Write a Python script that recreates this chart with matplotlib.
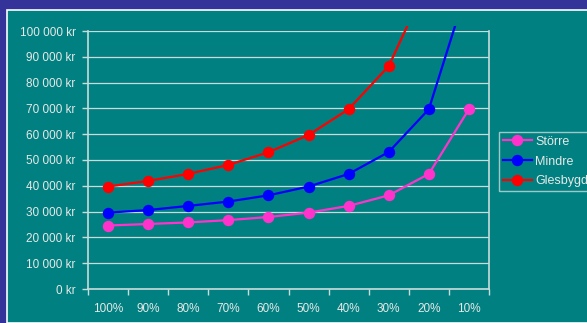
import numpy as np
import matplotlib
matplotlib.use("Agg")
import matplotlib.pyplot as plt
from matplotlib.patches import Rectangle
from matplotlib.ticker import FuncFormatter

categories = ["100%", "90%", "80%", "70%", "60%", "50%", "40%", "30%", "20%", "10%"]
storre = [24600, 25200, 25800, 26700, 27900, 29600, 32200, 36300, 44600, 69700]
mindre = [29600, 30600, 32200, 33900, 36300, 39700, 44600, 53100, 69700, 119000]
glesbygd = [39700, 41900, 44600, 48100, 53000, 59700, 69700, 86400, 120000, np.nan]
series_names = ["Större", "Mindre", "Glesbygd"]
yticks = [0, 10000, 20000, 30000, 40000, 50000, 60000, 70000, 80000, 90000, 100000]

W, H = 587, 323
BLUE_BG = "#333399"
TEAL = "#008080"
TXT = "#E8E8E8"
GRID = "#C8DCDC"

plt.rcParams['font.family'] = ['Liberation Sans', 'DejaVu Sans']
fig = plt.figure(figsize=(W / 100, H / 100), dpi=100, facecolor=BLUE_BG)

# teal panel with white border
panel = Rectangle((7 / W, 0), 1.0, 1 - 10 / H, transform=fig.transFigure,
                  facecolor=TEAL, edgecolor="white", linewidth=1.2, zorder=-10)
fig.patches.append(panel)

left, right, top, bottom = 88, 489, 31, 289
ax = fig.add_axes([left / W, 1 - bottom / H, (right - left) / W, (bottom - top) / H])
ax.set_zorder(5)
ax.patch.set_alpha(0)

x = np.arange(len(categories))
colors = ["#FF33CC", "#0000FF", "#FF0000"]
lines = []
for vals, c, name in zip([storre, mindre, glesbygd], colors, series_names):
    ln, = ax.plot(x, vals, color=c, lw=1.6, marker="o", markersize=7.2,
                  markeredgecolor=c, label=name, zorder=3)
    lines.append(ln)

ax.set_xlim(-0.5, len(categories) - 0.5)
ax.set_ylim(0, 100000)

clip = Rectangle((0, 0), 1, 1 + 5 / (bottom - top), transform=ax.transAxes,
                 facecolor="none", edgecolor="none")
for ln in lines:
    ln.set_clip_path(clip)

ax.set_yticks(yticks)
ax.yaxis.set_major_formatter(FuncFormatter(lambda v, p: f"{int(v):,} kr".replace(",", " ")))
ax.set_xticks(x)
ax.set_xticklabels(categories)
ax.set_xticks(np.arange(-0.5, len(categories)), minor=True)
ax.tick_params(axis="x", which="major", length=0, pad=10, labelsize=8.5, labelcolor=TXT)
ax.tick_params(axis="x", which="minor", length=4, width=1, color=GRID, direction="out")
ax.tick_params(axis="y", length=4, width=1, color=GRID, pad=5, labelsize=8.5, labelcolor=TXT)

ax.grid(axis="y", color=GRID, lw=0.9)
ax.set_axisbelow(True)
for s in ["left", "right", "bottom"]:
    ax.spines[s].set_color(GRID)
    ax.spines[s].set_linewidth(1.2)
ax.spines["top"].set_visible(False)

leg = fig.legend(handles=lines, labels=series_names, loc="upper left",
                 bbox_to_anchor=(499 / W, 1 - 132 / H), bbox_transform=fig.transFigure,
                 frameon=True, fancybox=False, fontsize=9, handlelength=2.3,
                 handletextpad=0.3, labelspacing=0.62, borderpad=0.3,
                 borderaxespad=0)
leg.get_frame().set_facecolor(TEAL)
leg.get_frame().set_edgecolor(GRID)
leg.get_frame().set_linewidth(1.0)
for t in leg.get_texts():
    t.set_color(TXT)

fig.savefig("out.png", dpi=100, facecolor=BLUE_BG)
